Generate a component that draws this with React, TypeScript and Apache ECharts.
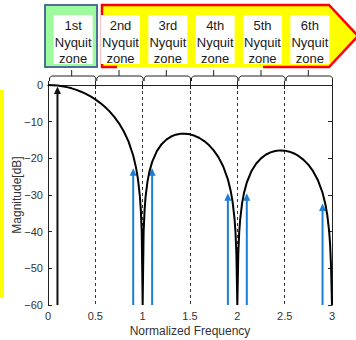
import React, { useEffect, useRef } from "react";
import * as echarts from "echarts";

const freqs = [
  0, 0.05, 0.1, 0.15, 0.2, 0.25, 0.3, 0.35, 0.4, 0.45, 0.5, 0.55, 0.6, 0.65, 0.7, 0.75, 0.8, 0.85, 0.9, 0.93, 0.95, 0.97, 0.98, 0.99, 1.0,
  1.01, 1.02, 1.03, 1.05, 1.07, 1.1, 1.15, 1.2, 1.25, 1.3, 1.35, 1.4, 1.45, 1.5, 1.55, 1.6, 1.65, 1.7, 1.75, 1.8, 1.85, 1.9, 1.93, 1.95, 1.97, 1.98, 1.99, 2.0,
  2.01, 2.02, 2.03, 2.05, 2.07, 2.1, 2.15, 2.2, 2.25, 2.3, 2.35, 2.4, 2.45, 2.5, 2.55, 2.6, 2.65, 2.7, 2.75, 2.8, 2.85, 2.9, 2.93, 2.95, 2.97, 2.98, 2.99, 3.0,
];
const magDb = [
  0, -0.04, -0.14, -0.32, -0.58, -0.91, -1.33, -1.83, -2.42, -3.11, -3.92, -4.86, -5.94, -7.2, -8.69, -10.45, -12.62, -15.39, -19.23, -22.54, -25.61, -30.21, -33.8, -39.9, -60,
  -40.1, -34.2, -30.73, -26.48, -23.76, -20.97, -18.02, -16.14, -14.89, -14.06, -13.55, -13.3, -13.28, -13.46, -13.86, -14.46, -15.29, -16.39, -17.81, -19.66, -22.15, -25.72, -28.88, -31.86, -36.36, -39.9, -45.98, -60,
  -46.07, -40.09, -36.62, -32.29, -29.49, -26.59, -23.45, -21.41, -20.0, -19.02, -18.37, -17.98, -17.83, -17.9, -18.18, -18.68, -19.41, -20.41, -21.74, -23.5, -25.9, -29.39, -32.51, -35.45, -39.93, -43.47, -49.5, -60,
];

const signalFreqs = [0.1];
const signalDb = [-0.4];
const aliasFreqs = [0.9, 1.1, 1.9, 2.1, 2.9];
const aliasDb = [-22.7, -22.7, -29.5, -29.5, -32.3];

const zoneOrdinals = ["1st", "2nd", "3rd", "4th", "5th", "6th"];
const zoneEdges = [0, 0.5, 1, 1.5, 2, 2.5, 3];

const xTicks = { min: 0, max: 3, interval: 0.5 };
const yTicks = { min: -60, max: 0, interval: 10 };

const W = 356;
const H = 340;
const G = { left: 48, right: 24, top: 85, bottom: 35 };
const FONT = "Liberation Sans";

function px(f: number) {
  return G.left + ((f - xTicks.min) / (xTicks.max - xTicks.min)) * (W - G.left - G.right);
}

function arrowRender(color: string) {
  return (params: any, api: any) => {
    const x = api.value(0);
    const y = api.value(1);
    const top = api.coord([x, y]);
    const base = api.coord([x, yTicks.min]);
    return {
      type: "group",
      children: [
        {
          type: "line",
          shape: { x1: top[0], y1: top[1] + 5, x2: base[0], y2: base[1] },
          style: { stroke: color, lineWidth: 2 },
        },
        {
          type: "polygon",
          shape: {
            points: [
              [top[0], top[1]],
              [top[0] - 3.5, top[1] + 7.5],
              [top[0] + 3.5, top[1] + 7.5],
            ],
          },
          style: { fill: color },
        },
      ],
    };
  };
}

export default function App() {
  const ref = useRef<HTMLDivElement>(null);
  useEffect(() => {
    if (!ref.current) return;
    const chart = echarts.init(ref.current, null, { renderer: "svg" });

    const graphics: any[] = [];
    graphics.push({ type: "rect", shape: { x: 0, y: 90, width: 4, height: 208 }, style: { fill: "#ffff00" } });
    graphics.push({
      type: "polygon",
      shape: { points: [[102, 5], [329, 5], [358, 36], [329, 67], [102, 67]] },
      style: { fill: "#ffff00" },
    });
    graphics.push({
      type: "polyline",
      shape: { points: [[117, 67], [102, 67], [102, 5], [329, 5], [358, 36], [329, 67], [263, 67]] },
      style: { stroke: "#ff0000", lineWidth: 2.5, fill: null },
    });
    graphics.push({
      type: "rect",
      shape: { x: 45, y: 5, width: 52, height: 62 },
      style: { fill: "#9dfb9d", stroke: "#4f6f9a", lineWidth: 2 },
    });
    for (let i = 0; i < zoneOrdinals.length; i++) {
      const a = px(zoneEdges[i]);
      const b = px(zoneEdges[i + 1]);
      const mid = (a + b) / 2;
      const cx = mid + 1.5;
      graphics.push({
        type: "rect",
        shape: { x: cx - 19.5, y: 15, width: 39, height: 49 },
        style: { fill: "#ffffff" },
      });
      graphics.push({
        type: "text",
        x: cx,
        y: 42,
        style: {
          text: zoneOrdinals[i] + "\nNyquit\nzone",
          fontFamily: FONT,
          fontSize: 13,
          lineHeight: 16.5,
          fill: "#1a1a1a",
          align: "center",
          verticalAlign: "middle",
        },
      });
      const xl = a + 1.5;
      const xr = b + 0.5;
      graphics.push({
        type: "polyline",
        shape: { points: [[xl, 81], [xl, 78], [xl + 2, 76], [xr - 2, 76], [xr, 78], [xr, 81]] },
        style: { stroke: "#222", lineWidth: 1, fill: null },
      });
      graphics.push({
        type: "line",
        shape: { x1: mid, y1: 70, x2: mid, y2: 76 },
        style: { stroke: "#222", lineWidth: 1 },
      });
    }

    const axisLabelStyle = { fontFamily: FONT, fontSize: 11, color: "#333" };

    chart.setOption({
      animation: false,
      backgroundColor: "#ffffff",
      grid: {
        left: G.left,
        right: G.right,
        top: G.top,
        bottom: G.bottom,
        containLabel: false,
        outerBoundsMode: "none",
      },
      xAxis: [
        {
          type: "value",
          min: xTicks.min,
          max: xTicks.max,
          interval: xTicks.interval,
          name: "Normalized Frequency",
          nameLocation: "middle",
          nameGap: 20,
          nameMoveOverlap: false,
          nameTextStyle: { fontFamily: FONT, fontSize: 12, color: "#333" },
          axisLine: { show: true, lineStyle: { color: "#222", width: 1 } },
          axisTick: { show: true, inside: true, length: 4, lineStyle: { color: "#222" } },
          axisLabel: { ...axisLabelStyle, margin: 5, formatter: (v: number) => String(v) },
          splitLine: { show: true, lineStyle: { color: "#333", type: [3, 3], width: 1 } },
        },
        {
          type: "value",
          position: "top",
          min: xTicks.min,
          max: xTicks.max,
          interval: xTicks.interval,
          axisLine: { show: true, onZero: false, lineStyle: { color: "#222", width: 1 } },
          axisTick: { show: true, inside: true, length: 4, lineStyle: { color: "#222" } },
          axisLabel: { show: false },
          splitLine: { show: false },
        },
      ],
      yAxis: [
        {
          type: "value",
          min: yTicks.min,
          max: yTicks.max,
          interval: yTicks.interval,
          name: "Magnitude[dB]",
          nameLocation: "middle",
          nameGap: 25,
          nameMoveOverlap: false,
          nameTextStyle: { fontFamily: FONT, fontSize: 12, color: "#333" },
          axisLine: { show: true, onZero: false, lineStyle: { color: "#222", width: 1 } },
          axisTick: { show: true, inside: true, length: 4, lineStyle: { color: "#222" } },
          axisLabel: { ...axisLabelStyle, margin: 5, formatter: (v: number) => String(v).replace("-", "\u2212") },
          splitLine: { show: false },
        },
        {
          type: "value",
          position: "right",
          min: yTicks.min,
          max: yTicks.max,
          interval: yTicks.interval,
          axisLine: { show: true, onZero: false, lineStyle: { color: "#222", width: 1 } },
          axisTick: { show: true, inside: true, length: 4, lineStyle: { color: "#222" } },
          axisLabel: { show: false },
          splitLine: { show: false },
        },
      ],
      series: [
        {
          type: "custom",
          name: "signal",
          renderItem: arrowRender("#111111"),
          data: signalFreqs.map((f, i) => [f, signalDb[i]]),
          encode: { x: 0, y: 1 },
          z: 2,
        },
        {
          type: "custom",
          name: "alias",
          renderItem: arrowRender("#1a7fd4"),
          data: aliasFreqs.map((f, i) => [f, aliasDb[i]]),
          encode: { x: 0, y: 1 },
          z: 2,
        },
        {
          type: "line",
          name: "response",
          data: freqs.map((f, i) => [f, magDb[i]]),
          showSymbol: false,
          symbol: "none",
          lineStyle: { color: "#000000", width: 2 },
          z: 3,
        },
      ],
      graphic: graphics,
    });
    return () => chart.dispose();
  }, []);
  return <div ref={ref} style={{ position: "fixed", left: 0, top: 0, width: W, height: H }} />;
}
